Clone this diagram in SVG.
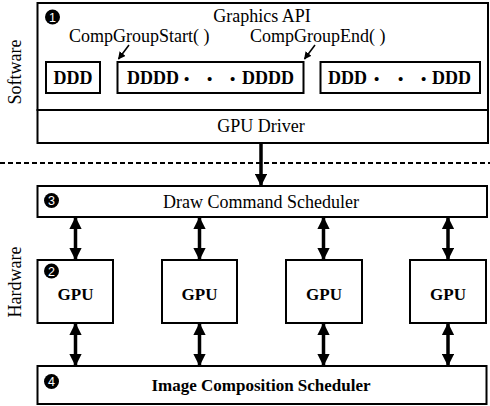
<svg xmlns="http://www.w3.org/2000/svg" width="490" height="406" viewBox="0 0 490 406">
  <style>
    .box { fill: #fff; stroke: #000; stroke-width: 2; }
    .t { font-family: "Liberation Serif", "Times New Roman", serif; font-size: 18px; fill: #000; }
    .b { font-weight: bold; font-size: 17px; }
    .d { font-weight: bold; font-size: 18px; }
    .mid { text-anchor: middle; }
    .badge { fill: #000; }
    .num { font-family: "Liberation Sans", Arial, sans-serif; font-size: 12.5px; fill: #fff; text-anchor: middle; }
    .link { stroke: #000; stroke-width: 3.5; fill: none; }
    .thin { stroke: #000; stroke-width: 1.5; fill: none; }
  </style>
  <defs>
    <marker id="head" viewBox="0 0 10 10" refX="9" refY="5" markerWidth="3.6" markerHeight="3.6" orient="auto-start-reverse" markerUnits="strokeWidth">
      <path d="M0,0 L10,5 L0,10 Z" fill="#000"/>
    </marker>
    <marker id="small" viewBox="0 0 10 10" refX="9" refY="5" markerWidth="5" markerHeight="5" orient="auto" markerUnits="strokeWidth">
      <path d="M0,0 L10,5 L0,10 Z" fill="#000"/>
    </marker>
  </defs>

  <!-- side labels -->
  <text class="t mid" transform="translate(21,72) rotate(-90)">Software</text>
  <text class="t mid" transform="translate(21,282) rotate(-90)">Hardware</text>

  <!-- software / hardware boundary -->
  <line x1="0" y1="163" x2="490" y2="163" stroke="#000" stroke-width="2" stroke-dasharray="5 3"/>

  <!-- Graphics API layer -->
  <g id="graphics-api">
    <rect class="box" x="37.5" y="3" width="450.5" height="107"/>
    <circle class="badge" cx="52.5" cy="17" r="7.5"/>
    <text class="num" x="52.5" y="21.5">1</text>
    <text class="t mid" x="262" y="22">Graphics API</text>
    <text class="t" x="69" y="42">CompGroupStart( )</text>
    <text class="t" x="250" y="42">CompGroupEnd( )</text>
  </g>

  <g id="draw-single">
    <rect class="box" x="46" y="62" width="54" height="31"/>
    <text class="t d mid" x="73" y="84">DDD</text>
  </g>

  <g id="draw-group">
    <rect class="box" x="117.5" y="62" width="186" height="31"/>
    <text class="t d"><tspan x="127" y="84">DDDD</tspan><tspan x="184" y="84" font-size="15">•</tspan><tspan x="207" y="84" font-size="15">•</tspan><tspan x="230" y="84" font-size="15">•</tspan><tspan x="242" y="84">DDDD</tspan></text>
  </g>

  <g id="draw-rest">
    <rect class="box" x="320.5" y="62" width="159.5" height="31"/>
    <text class="t d"><tspan x="328" y="84">DDD</tspan><tspan x="374" y="84" font-size="15">•</tspan><tspan x="398" y="84" font-size="15">•</tspan><tspan x="421" y="84" font-size="15">•</tspan><tspan x="432" y="84">DDD</tspan></text>
  </g>

  <g id="gpu-driver">
    <rect class="box" x="37.5" y="110" width="450.5" height="33"/>
    <text class="t mid" x="261" y="132">GPU Driver</text>
  </g>

  <!-- Hardware schedulers and GPUs -->
  <g id="draw-command-scheduler">
    <rect class="box" x="37.5" y="186" width="449.5" height="31"/>
    <circle class="badge" cx="51.5" cy="200.5" r="7.5"/>
    <text class="num" x="51.5" y="205">3</text>
    <text class="t mid" x="261" y="208">Draw Command Scheduler</text>
  </g>

  <g id="gpu-1">
    <rect class="box" x="37.5" y="260" width="75.5" height="63"/>
    <circle class="badge" cx="51.5" cy="271" r="7.5"/>
    <text class="num" x="51.5" y="275.5">2</text>
    <text class="t b mid" x="75.5" y="300">GPU</text>
  </g>
  <g id="gpu-2">
    <rect class="box" x="162" y="260" width="75" height="63"/>
    <text class="t b mid" x="199.5" y="300">GPU</text>
  </g>
  <g id="gpu-3">
    <rect class="box" x="286" y="260" width="76" height="63"/>
    <text class="t b mid" x="324" y="300">GPU</text>
  </g>
  <g id="gpu-4">
    <rect class="box" x="410" y="260" width="76" height="63"/>
    <text class="t b mid" x="448" y="300">GPU</text>
  </g>

  <g id="image-composition-scheduler">
    <rect class="box" x="37.5" y="366" width="449" height="38"/>
    <circle class="badge" cx="51.5" cy="381.5" r="7.5"/>
    <text class="num" x="51.5" y="386">4</text>
    <text class="t b mid" x="261" y="391">Image Composition Scheduler</text>
  </g>

  <!-- connectors -->
  <g id="connectors">
    <line class="thin" x1="129" y1="45" x2="118.5" y2="59" marker-end="url(#small)"/>
    <line class="thin" x1="315" y1="45" x2="304.5" y2="59" marker-end="url(#small)"/>
    <line class="link" x1="261" y1="143" x2="261" y2="185" marker-end="url(#head)"/>

    <line class="link" x1="75.5" y1="218" x2="75.5" y2="259" marker-start="url(#head)" marker-end="url(#head)"/>
    <line class="link" x1="199.5" y1="218" x2="199.5" y2="259" marker-start="url(#head)" marker-end="url(#head)"/>
    <line class="link" x1="323.5" y1="218" x2="323.5" y2="259" marker-start="url(#head)" marker-end="url(#head)"/>
    <line class="link" x1="448" y1="218" x2="448" y2="259" marker-start="url(#head)" marker-end="url(#head)"/>

    <line class="link" x1="75.5" y1="324" x2="75.5" y2="365" marker-start="url(#head)" marker-end="url(#head)"/>
    <line class="link" x1="199.5" y1="324" x2="199.5" y2="365" marker-start="url(#head)" marker-end="url(#head)"/>
    <line class="link" x1="323.5" y1="324" x2="323.5" y2="365" marker-start="url(#head)" marker-end="url(#head)"/>
    <line class="link" x1="448" y1="324" x2="448" y2="365" marker-start="url(#head)" marker-end="url(#head)"/>
  </g>
</svg>
